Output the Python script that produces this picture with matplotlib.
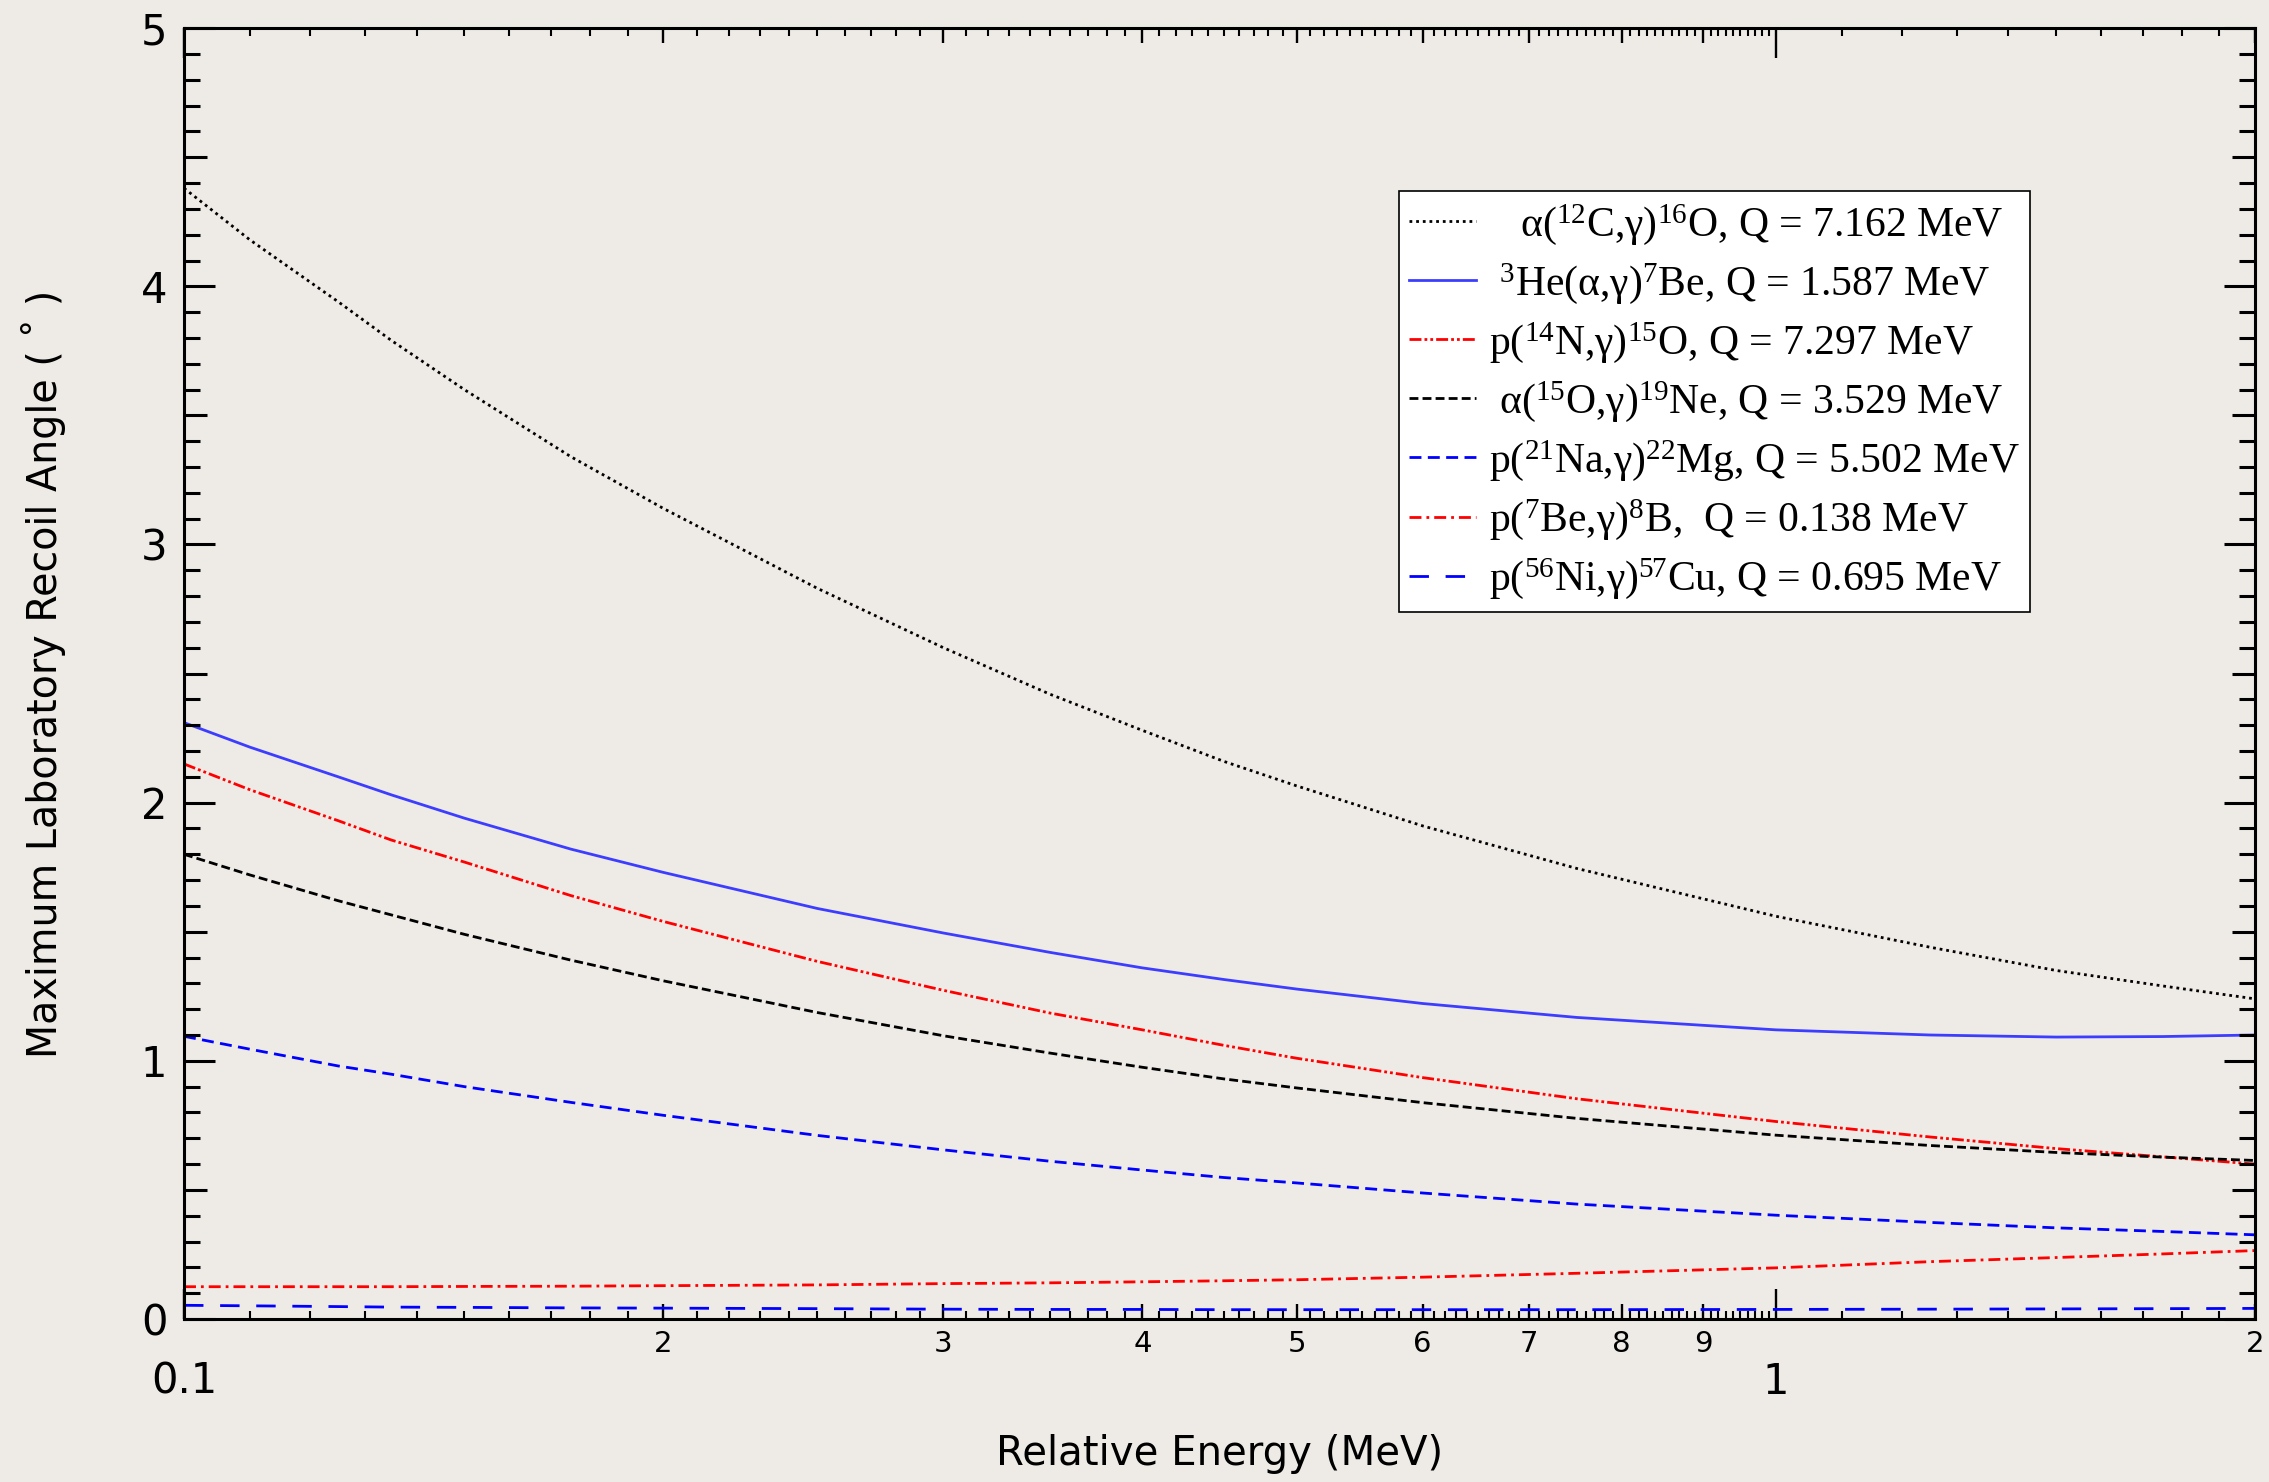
import matplotlib
matplotlib.use("Agg")
import matplotlib.pyplot as plt
from matplotlib.ticker import FixedLocator, FuncFormatter, MultipleLocator, NullLocator, NullFormatter

plt.rcParams['font.family'] = ['DejaVu Sans']
plt.rcParams['mathtext.fontset'] = 'custom'
plt.rcParams['mathtext.rm'] = 'Liberation Serif'
plt.rcParams['mathtext.it'] = 'Liberation Serif'
plt.rcParams['mathtext.bf'] = 'Liberation Serif:bold'

# relative energy (MeV)
energy = [0.1, 0.11, 0.125, 0.135, 0.15, 0.175, 0.2, 0.25, 0.3, 0.35, 0.4, 0.45, 0.5, 0.6, 0.75,
          1.0, 1.25, 1.5, 1.75, 2.0]

# max lab recoil angle (deg)
c12_ag = [4.38, 4.18, 3.94, 3.79, 3.60, 3.34, 3.14, 2.83, 2.60, 2.42, 2.28, 2.16, 2.065, 1.91, 1.745,
          1.56, 1.44, 1.35, 1.29, 1.24]
he3_ag = [2.31, 2.215, 2.10, 2.03, 1.94, 1.82, 1.73, 1.59, 1.495, 1.42, 1.36, 1.315, 1.278, 1.222, 1.168,
          1.12, 1.10, 1.092, 1.094, 1.10]
n14_pg = [2.15, 2.05, 1.93, 1.855, 1.77, 1.64, 1.54, 1.385, 1.273, 1.185, 1.12, 1.06, 1.01, 0.935, 0.853,
          0.765, 0.705, 0.66, 0.628, 0.60]
o15_ag = [1.80, 1.72, 1.62, 1.565, 1.49, 1.39, 1.31, 1.187, 1.097, 1.03, 0.975, 0.93, 0.895, 0.838, 0.777,
          0.712, 0.672, 0.645, 0.627, 0.614]
na21_pg = [1.095, 1.045, 0.98, 0.948, 0.90, 0.839, 0.789, 0.711, 0.655, 0.611, 0.577, 0.548, 0.527, 0.488,
           0.445, 0.402, 0.374, 0.353, 0.339, 0.326]
be7_pg = [0.125, 0.125, 0.125, 0.125, 0.126, 0.127, 0.129, 0.132, 0.137, 0.140, 0.144, 0.148, 0.152, 0.162,
          0.177, 0.198, 0.222, 0.238, 0.252, 0.265]
ni56_pg = [0.053, 0.051, 0.048, 0.046, 0.045, 0.043, 0.042, 0.040, 0.038, 0.037, 0.037, 0.036, 0.036, 0.036,
           0.036, 0.037, 0.038, 0.039, 0.040, 0.041]

labels = [
    '   α($^{12}$C,γ)$^{16}$O, Q = 7.162 MeV',
    ' $^{3}$He(α,γ)$^{7}$Be, Q = 1.587 MeV',
    'p($^{14}$N,γ)$^{15}$O, Q = 7.297 MeV',
    ' α($^{15}$O,γ)$^{19}$Ne, Q = 3.529 MeV',
    'p($^{21}$Na,γ)$^{22}$Mg, Q = 5.502 MeV',
    'p($^{7}$Be,γ)$^{8}$B,  Q = 0.138 MeV',
    'p($^{56}$Ni,γ)$^{57}$Cu, Q = 0.695 MeV',
]

bg = '#eeebe6'
fig = plt.figure(figsize=(22.69, 14.82), dpi=100, facecolor=bg)
rect = [0.0811, 0.110, 0.9127, 0.871]
ax = fig.add_axes(rect, facecolor=bg)

lw = 2.0
ax.plot(energy, c12_ag, color='black', lw=lw, ls=(0, (1, 1.4)), label=labels[0])
ax.plot(energy, he3_ag, color='#3d3dff', lw=lw, ls='-', label=labels[1])
ax.plot(energy, n14_pg, color='red', lw=lw, ls=(0, (4.3, 1.1, 1, 1.1, 1, 1.1)), label=labels[2])
ax.plot(energy, o15_ag, color='black', lw=lw, ls=(0, (3.2, 1.5)), label=labels[3])
ax.plot(energy, na21_pg, color='blue', lw=lw, ls=(0, (4.3, 2.3)), label=labels[4])
ax.plot(energy, be7_pg, color='red', lw=lw, ls=(0, (4.3, 1.8, 1, 1.8)), label=labels[5])
ax.plot(energy, ni56_pg, color='blue', lw=lw, ls=(0, (7, 6)), label=labels[6])

ax.set_xscale('log')
ax.set_xlim(0.1, 2)
ax.set_ylim(0, 5)

for s in ax.spines.values():
    s.set_linewidth(2.2)

# x ticks: long at decades, medium (labelled) at 0.2..0.9 and 2
ax.xaxis.set_major_locator(FixedLocator([0.1, 1]))
ax.xaxis.set_major_formatter(FuncFormatter(lambda v, p: '0.1' if v < 0.5 else '1'))
mid_x = [0.2, 0.3, 0.4, 0.5, 0.6, 0.7, 0.8, 0.9, 2.0]
ax.xaxis.set_minor_locator(FixedLocator(mid_x))
ax.xaxis.set_minor_formatter(FuncFormatter(lambda v, p: '%d' % round(v * 10) if v < 1 else '%d' % round(v)))

ax.yaxis.set_major_locator(MultipleLocator(1))
ax.yaxis.set_minor_locator(FixedLocator([0.5, 1.5, 2.5, 3.5, 4.5]))
ax.yaxis.set_major_formatter(FuncFormatter(lambda v, p: '%d' % v))

ax.tick_params(axis='x', which='major', direction='in', top=True, bottom=True, length=21.6, width=1.7,
               labelsize=30, pad=30)
ax.tick_params(axis='x', which='minor', direction='in', top=True, bottom=True, length=10.8, width=1.7,
               labelsize=21, pad=8)
ax.tick_params(axis='y', which='major', direction='in', left=True, right=True, length=22, width=2.2,
               labelsize=30, pad=12)
ax.tick_params(axis='y', which='minor', direction='in', left=True, right=True, length=16.5, width=2.2)

ax.set_xlabel('Relative Energy (MeV)', fontsize=29)
ax.xaxis.set_label_coords(0.5, -0.1046)
ax.xaxis.label.set_va('center')
ax.set_ylabel('Maximum Laboratory Recoil Angle ( ˚ )', fontsize=28.5)
ax.yaxis.set_label_coords(-0.068, 0.5)
ax.yaxis.label.set_va('center')

leg = ax.legend(loc='upper left', bbox_to_anchor=(0.5867, 0.8737), borderaxespad=0,
                prop={'family': 'Liberation Serif', 'size': 30}, fancybox=False,
                framealpha=1, edgecolor='black', facecolor='white',
                handlelength=1.6, handletextpad=0.3, labelspacing=0.34, borderpad=0.25)
leg.get_frame().set_linewidth(1.2)

# short ticks on an overlay axes
ax2 = fig.add_axes(rect, facecolor='none')
ax2.set_xscale('log')
ax2.set_xlim(0.1, 2)
ax2.set_ylim(0, 5)
for s in ax2.spines.values():
    s.set_visible(False)
short_x = [v / 100 for v in range(11, 100) if v % 10 != 0] + [v / 10 for v in range(11, 20)]
short_y = [v / 10 for v in range(1, 50) if v % 5 != 0]
ax2.xaxis.set_major_locator(FixedLocator(short_x))
ax2.xaxis.set_minor_locator(NullLocator())
ax2.xaxis.set_major_formatter(NullFormatter())
ax2.yaxis.set_major_locator(FixedLocator(short_y))
ax2.yaxis.set_minor_locator(NullLocator())
ax2.yaxis.set_major_formatter(NullFormatter())
ax2.tick_params(axis='x', direction='in', top=True, bottom=True, length=6, width=1.5)
ax2.tick_params(axis='y', direction='in', left=True, right=True, length=11.5, width=2.2)

fig.savefig('out.png', dpi=100, facecolor=bg)
